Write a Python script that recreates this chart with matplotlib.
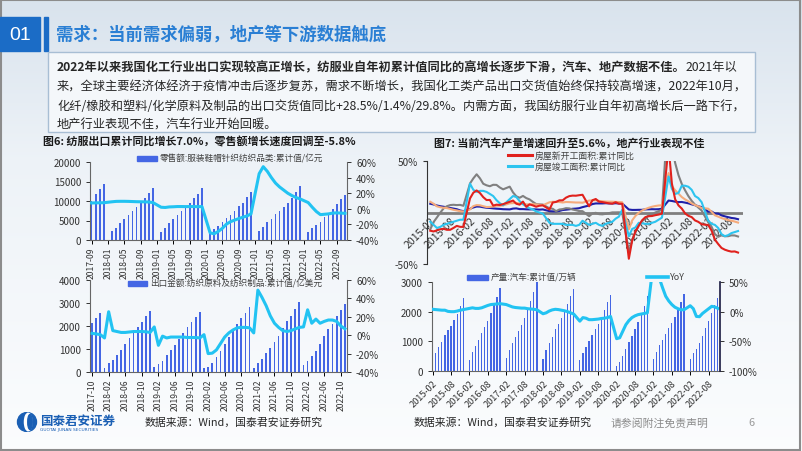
import numpy as np
import pandas as pd
import matplotlib
matplotlib.use("Agg")
import matplotlib.pyplot as plt
from matplotlib.patches import Rectangle, Circle, Ellipse
from matplotlib.lines import Line2D

plt.rcParams['font.family'] = ['Noto Sans CJK SC', 'DejaVu Sans']
plt.rcParams['axes.unicode_minus'] = False

nan = np.nan
# ---------------- data ----------------
months1 = pd.period_range('2017-09', '2022-11', freq='M')
retail_value = [10100, 11800, 13100, 14400,
                nan, 2300, 3200, 4300, 5400, 6500, 7500, 8500, 9500, 10700, 12000, 13400,
                nan, 2150, 3100, 4300, 5400, 6350, 7500, 8500, 9500, 10700, 11850, 13400,
                nan, 1800, 2800, 3600, 4700, 5600, 6500, 7400, 8600, 9600, 11000, 12400,
                nan, 2300, 3400, 4500, 5500, 6600, 7500, 8400, 9400, 10800, 12300, 13800,
                nan, 2100, 3100, 3900, 4700, 5800, 6700, 8000, 9300, 10400, 11600]
retail_yoy = [7.5, 7.6, 7.7, 7.8,
              nan, 9.0, 9.5, 9.6, 9.6, 9.5, 9.3, 9.1, 9.0, 8.9, 8.7, 8.0,
              nan, 2.0, 1.7, 2.4, 2.6, 2.9, 2.9, 2.8, 2.9, 2.9, 2.7, 2.9,
              nan, -30.9, -32.0, -29.0, -25.0, -19.6, -16.5, -14.5, -12.6, -10.8, -9.2, -6.6,
              nan, 45.0, 54.0, 48.0, 40.0, 33.0, 28.0, 24.0, 20.0, 17.0, 14.5, 12.7,
              nan, 8.0, 2.0, -3.5, -7.5, -7.0, -6.5, -5.5, -5.2, -5.5, -5.8]

months2 = pd.period_range('2017-10', '2022-11', freq='M')
export_value = [2115, 2330, 2547,
                170, 390, 530, 750, 960, 1220, 1480, 1730, 1970, 2190, 2450, 2660,
                215, 360, 500, 720, 935, 1180, 1440, 1680, 1940, 2160, 2375, 2590,
                190, 215, 400, 650, 900, 1220, 1510, 1800, 2090, 2330, 2560, 2830,
                190, 390, 575, 820, 1040, 1320, 1580, 1900, 2200, 2450, 2730, 3050,
                290, 480, 700, 930, 1200, 1550, 1870, 2100, 2450, 2700, 2940]
export_yoy = [2.0, 1.4, 0.6,
              -3.0, 25.5, 5.0, 4.0, 3.0, 3.0, 3.5, 4.0, 4.0, 4.0, 3.7, 3.0,
              9.0, -11.0, -1.0, -3.0, -2.0, -2.0, -2.0, -2.0, -2.5, -2.5, -2.5, -3.0,
              0.6, -20.0, -19.5, -16.0, -9.0, -2.0, 2.5, 5.7, 8.0, 8.5, 8.5, 8.0,
              2.5, 49.0, 41.0, 32.0, 21.0, 13.0, 8.5, 5.0, 4.0, 5.0, 6.8, 8.5,
              9.0, 27.6, 13.0, 17.5, 13.0, 15.0, 16.5, 16.5, 15.0, 10.0, 7.0]

months3 = pd.period_range('2015-02', '2022-11', freq='M')
new_start_yoy = [-17.7, -18.4, -17.3, -16.3, -15.8, -16.8, -16.8, -15.0, -13.0, -13.9, -14.0,
                 nan, 13.7, 19.2, 21.4, 18.9, 14.9, 12.1, 12.2, 6.7, 7.6, 7.3, 8.1,
                 nan, 10.4, 11.6, 8.5, 7.6, 10.6, 5.5, 7.9, 6.9, 5.6, 6.6, 7.0,
                 nan, 2.9, 9.7, 10.3, 11.8, 11.8, 14.4, 15.9, 16.4, 16.3, 16.8, 17.2,
                 nan, 6.0, 11.9, 13.1, 10.5, 10.1, 9.5, 8.9, 8.6, 10.0, 8.6, 8.5,
                 nan, -44.9, -27.2, -18.4, -12.8, -7.6, -4.5, -3.6, -3.4, -2.6, -2.0, -1.2,
                 nan, 64.3, 28.2, 12.8, 6.9, 3.8, -0.9, -3.2, -4.5, -7.7, -9.1, -11.4,
                 nan, -12.2, -17.5, -26.3, -30.6, -34.4, -36.1, -37.2, -38.0, -37.8, -38.9]
completed_yoy = [-9.0, -12.0, -15.0, -14.0, -12.0, -11.0, -10.0, -9.0, -8.0, -7.0, -7.0,
                 nan, 28.0, 22.0, 20.0, 21.0, 21.0, 20.0, 18.0, 16.0, 12.0, 9.0, 7.0,
                 nan, 13.0, 16.0, 15.0, 11.0, 8.0, 6.0, 4.0, 3.0, 1.0, 0.0, -1.0,
                 nan, -10.0, -11.0, -11.0, -11.0, -11.0, -12.0, -12.0, -12.0, -13.0, -12.0, -8.0,
                 nan, -12.0, -11.0, -10.0, -12.0, -13.0, -11.0, -10.0, -9.0, -6.0, -4.0, 2.6,
                 nan, -23.0, -16.0, -14.5, -10.0, -10.5, -11.0, -11.0, -10.0, -9.0, -7.0, -5.0,
                 nan, 35.0, 23.0, 18.0, 19.0, 26.0, 26.0, 25.0, 22.0, 16.0, 14.0, 10.0,
                 nan, -8.0, -11.0, -12.0, -15.0, -21.0, -23.0, -22.0, -20.0, -19.0, -18.0]
sales_area_yoy = [-16.3, -9.2, -4.8, -0.2, 3.9, 6.1, 7.2, 7.5, 7.2, 7.4, 6.5,
                  nan, 28.2, 33.1, 37.1, 33.2, 27.9, 26.4, 25.5, 26.9, 26.8, 24.3, 22.5,
                  nan, 25.1, 19.5, 15.7, 14.3, 16.1, 14.0, 12.7, 10.3, 8.2, 7.9, 7.7,
                  nan, 4.1, 3.6, 1.3, 2.9, 3.3, 4.2, 4.0, 2.9, 2.2, 1.4, 1.3,
                  nan, -3.6, -0.9, -0.3, -1.6, -1.8, -1.3, -0.6, 0.1, 0.1, 0.2, -0.1,
                  nan, -39.2, -26.3, -19.3, -12.3, -8.4, -5.8, -2.6, -1.8, 0.0, 1.3, 2.6,
                  nan, 104.9, 63.8, 48.1, 36.3, 27.7, 21.5, 15.9, 11.3, 7.6, 4.8, 1.9,
                  nan, -9.6, -13.8, -20.9, -23.6, -22.2, -23.1, -23.0, -22.2, -22.3, -23.3]
invest_yoy = [10.4, 8.5, 6.0, 5.1, 4.6, 4.3, 3.5, 2.6, 2.0, 1.3, 1.0,
              nan, 3.0, 6.2, 7.2, 7.0, 6.1, 5.3, 5.4, 5.8, 6.6, 6.5, 6.9,
              nan, 8.9, 9.1, 9.3, 8.8, 8.5, 7.9, 7.9, 8.1, 7.8, 7.5, 7.0,
              nan, 9.9, 10.4, 10.3, 10.2, 9.7, 10.2, 10.1, 9.9, 9.7, 9.7, 9.5,
              nan, 11.6, 11.8, 11.9, 11.2, 10.9, 10.6, 10.5, 10.5, 10.3, 10.2, 9.9,
              nan, -16.3, -7.7, -3.3, -0.3, 1.9, 3.4, 4.6, 5.6, 6.3, 6.8, 7.0,
              nan, 38.3, 25.6, 21.6, 18.3, 15.0, 12.7, 10.9, 8.8, 7.2, 6.0, 4.4,
              nan, 3.7, 0.7, -2.7, -4.0, -5.4, -6.4, -7.4, -8.0, -8.8, -9.8]
construction_yoy = [8.5, 7.8, 6.8, 6.1, 5.6, 5.0, 4.4, 3.8, 3.2, 2.0, 1.3,
                    nan, 3.6, 4.9, 5.8, 5.7, 5.1, 4.6, 4.4, 4.0, 3.7, 3.5, 3.2,
                    nan, 3.0, 3.8, 4.0, 3.3, 3.3, 3.1, 3.0, 3.1, 3.0, 2.8, 3.0,
                    nan, 1.3, 1.1, 1.1, 1.5, 2.4, 2.7, 3.1, 3.6, 3.8, 4.2, 5.2,
                    nan, 6.8, 8.2, 8.8, 8.8, 8.8, 9.0, 8.8, 8.7, 9.0, 8.7, 8.7,
                    nan, 2.9, 2.5, 2.5, 2.6, 2.6, 3.0, 3.1, 3.2, 3.1, 3.2, 3.7,
                    nan, 11.6, 11.2, 10.5, 10.1, 10.2, 9.6, 8.9, 7.9, 7.1, 6.1, 5.2,
                    nan, 0.8, 1.0, -1.0, -1.0, -2.8, -3.7, -4.5, -5.3, -5.7, -6.5]

car_output = [395, 605, 800, 990, 1210, 1370, 1530, 1720, 1930, 2200, 2450,
              nan, 380, 635, 840, 1050, 1290, 1470, 1680, 1960, 2210, 2510, 2810,
              nan, 440, 720, 940, 1150, 1350, 1560, 1790, 2070, 2350, 2660, 2990,
              nan, 420, 700, 930, 1160, 1410, 1600, 1800, 2030, 2270, 2540, 2780,
              nan, 360, 610, 820, 1010, 1220, 1420, 1600, 1810, 2040, 2310, 2570,
              nan, 170, 310, 520, 740, 970, 1190, 1400, 1650, 1910, 2200, 2520,
              nan, 390, 640, 860, 1060, 1260, 1440, 1610, 1820, 2060, 2320, 2610,
              nan, 400, 620, 740, 940, 1190, 1440, 1670, 1970, 2230, 2460]
car_yoy = [4.0, 3.5, 3.0, 2.5, 2.5, 0.5, 0.0, 0.0, 1.0, 2.5, 3.5,
           nan, 5.5, 6.5, 5.5, 5.5, 6.5, 8.5, 10.5, 12.0, 12.5, 13.0, 13.5,
           nan, 12.0, 10.0, 8.0, 7.0, 6.5, 6.0, 6.0, 5.0, 4.5, 4.0, 3.2,
           nan, -3.5, -2.0, 1.0, 3.0, 4.0, 3.5, 2.5, 1.5, 0.0, -2.0, -4.0,
           nan, -16.0, -10.0, -11.0, -13.5, -13.5, -13.0, -12.5, -11.5, -11.0, -10.0, -8.0,
           nan, -45.5, -44.0, -33.0, -22.0, -15.0, -10.0, -7.0, -5.0, -4.0, -3.0, -2.0,
           nan, 83.0, 80.0, 55.0, 40.0, 26.0, 18.0, 12.0, 7.5, 5.0, 3.0, 3.4,
           nan, 10.0, 5.0, -8.0, -8.5, -3.0, 1.0, 5.0, 9.0, 8.0, 5.6]

# ---------------- figure ----------------
W, H = 802, 452
fig = plt.figure(figsize=(W / 100, H / 100), dpi=100)

def fx(x):
    return x / W

def fy(y):
    return 1 - y / H

def ax_px(l, t, r, b):
    a = fig.add_axes([l / W, 1 - b / H, (r - l) / W, (b - t) / H])
    a.patch.set_alpha(0)
    return a

# background gradient
bg = fig.add_axes([0, 0, 1, 1], zorder=-10)
top = np.array([0.85, 0.89, 0.93])
mid = np.array([0.93, 0.95, 0.97])
bot = np.array([0.985, 0.99, 0.995])
t = np.linspace(0, 1, 200)[:, None]
grad = np.where(t < 0.35, top + (mid - top) * (t / 0.35), mid + (bot - mid) * ((t - 0.35) / 0.65))
bg.imshow(grad[:, None, :].repeat(2, axis=1), extent=[0, 1, 0, 1], aspect='auto')
bg.set_xlim(0, 1); bg.set_ylim(0, 1)
bg.axis('off')
bg.add_patch(Rectangle((0.001, 0.002), 0.997, 0.995, fill=False, ec='#8c8c8c', lw=1.5))

# header
fig.patches.append(Rectangle((fx(0), fy(52)), fx(40), 34 / H, transform=fig.transFigure,
                             color='#1b6cc6', zorder=1))
fig.patches.append(Rectangle((fx(44), fy(52)), fx(4), 34 / H, transform=fig.transFigure,
                             color='#1b6cc6', zorder=1))
fig.text(fx(20), fy(35), '01', color='white', fontsize=14, ha='center', va='center',
         family=['Liberation Sans', 'DejaVu Sans'])
fig.text(fx(56), fy(35), '需求：当前需求偏弱，地产等下游数据触底', color='#2a7fd4',
         fontsize=12.5, weight='bold', ha='left', va='center')

# paragraph box
fig.patches.append(Rectangle((fx(48), fy(133)), (755 - 48) / W, 80 / H, transform=fig.transFigure,
                             fc='#f4f7fa', ec='#a8bed4', lw=1.0, zorder=1))
para_y = [68, 87, 106, 125]
t1 = fig.text(fx(57), fy(para_y[0]), '2022年以来我国化工行业出口实现较高正增长，纺服业自年初累计值同比的高增长逐步下滑，汽车、地产数据不佳。',
              fontsize=8.8, weight='bold', color='#262626', ha='left', va='center')
fig.canvas.draw()
bb = t1.get_window_extent()
fig.text(bb.x1 / W, fy(para_y[0]), '2021年以', fontsize=8.8, color='#262626', ha='left', va='center')
para_lines = ['来，全球主要经济体经济于疫情冲击后逐步复苏，需求不断增长，我国化工类产品出口交货值始终保持较高增速，2022年10月，',
              '化纤/橡胶和塑料/化学原料及制品的出口交货值同比+28.5%/1.4%/29.8%。内需方面，我国纺服行业自年初高增长后一路下行，',
              '地产行业表现不佳，汽车行业开始回暖。']
for yy, s in zip(para_y[1:], para_lines):
    fig.text(fx(57), fy(yy), s, fontsize=8.8, color='#262626', ha='left', va='center')

BAR = '#4466e4'
CYAN = '#22c3f2'
TXT = '#333333'
SP = '#666666'

def style_spines(a, sides_on):
    for s in ['top', 'bottom', 'left', 'right']:
        a.spines[s].set_visible(s in sides_on)
        a.spines[s].set_color(SP)
        a.spines[s].set_linewidth(0.8)

def legend_patch(x0, x1, y, text, tx):
    fig.patches.append(Rectangle((fx(x0), fy(y + 2.5)), (x1 - x0) / W, 5 / H,
                                 transform=fig.transFigure, color=BAR, zorder=5))
    fig.text(fx(tx), fy(y), text, fontsize=6.2, color='#404040', ha='left', va='center')

def legend_line(x0, x1, y, color, text, tx, lw=2.2):
    fig.lines.append(Line2D([fx(x0), fx(x1)], [fy(y), fy(y)], transform=fig.transFigure,
                            color=color, lw=lw, zorder=5))
    fig.text(fx(tx), fy(y), text, fontsize=6.4, color='#404040', ha='left', va='center')

# ---------------- chart 1 ----------------
fig.text(fx(199), fy(142), '图6: 纺服出口累计同比增长7.0%，零售额增长速度回调至-5.8%',
         fontsize=7.9, weight='bold', color='#1a1a1a', ha='center', va='center')
x1 = np.arange(len(months1))
rv = np.array(retail_value, float)
ry = np.array(retail_yoy, float)
ax1 = ax_px(90, 163, 347, 241)
m = ~np.isnan(rv)
ax1.bar(x1[m], rv[m], width=0.42, color=BAR, zorder=2)
ax1.set_xlim(-0.4, 62.5)
ax1.set_ylim(0, 20000)
ax1.set_yticks(range(0, 20001, 5000))
tk1 = list(range(0, 61, 4))
ax1.set_xticks(tk1)
ax1.set_xticklabels([months1[i].strftime('%Y-%m') for i in tk1], rotation=90, fontsize=6.2, color=TXT)
ax1.tick_params(axis='y', labelsize=7, colors=TXT, length=3, width=0.7)
ax1.tick_params(axis='x', length=3, width=0.7, pad=1.5)
style_spines(ax1, ['left', 'bottom'])
ax1b = ax1.twinx()
ax1b.patch.set_alpha(0)
m = ~np.isnan(ry)
ax1b.plot(x1[m], ry[m], color=CYAN, lw=2.2, solid_joinstyle='round')
ax1b.set_ylim(-40, 60)
ax1b.set_yticks(range(-40, 61, 20))
ax1b.set_yticklabels([f'{v}%' for v in range(-40, 61, 20)])
ax1b.tick_params(axis='y', labelsize=7, colors=TXT, length=3, width=0.7)
style_spines(ax1b, ['right'])
legend_patch(137, 157, 159, '零售额:服装鞋帽针织纺织品类:累计值/亿元', 160)

# ---------------- chart 2 ----------------
x2 = np.arange(len(months2))
ev = np.array(export_value, float)
ey = np.array(export_yoy, float)
ax2 = ax_px(90, 281, 347, 373)
ax2.bar(x2, ev, width=0.42, color=BAR, zorder=2)
ax2.set_xlim(-0.5, 61.5)
ax2.set_ylim(0, 4000)
ax2.set_yticks(range(0, 4001, 1000))
tk2 = list(range(0, 61, 4))
ax2.set_xticks(tk2)
ax2.set_xticklabels([months2[i].strftime('%Y-%m') for i in tk2], rotation=90, fontsize=6.2, color=TXT)
ax2.tick_params(axis='y', labelsize=7, colors=TXT, length=3, width=0.7)
ax2.tick_params(axis='x', length=3, width=0.7, pad=1.5)
style_spines(ax2, ['left', 'bottom'])
ax2b = ax2.twinx()
ax2b.patch.set_alpha(0)
ax2b.plot(x2, ey, color=CYAN, lw=2.2, solid_joinstyle='round')
ax2b.set_ylim(-40, 60)
ax2b.set_yticks(range(-40, 61, 20))
ax2b.set_yticklabels([f'{v}%' for v in range(-40, 61, 20)])
ax2b.tick_params(axis='y', labelsize=7, colors=TXT, length=3, width=0.7)
style_spines(ax2b, ['right'])
legend_patch(128, 147, 284, '出口金额:纺织原料及纺织制品:累计值/亿美元', 150)

# ---------------- chart 3 ----------------
fig.text(fx(569), fy(143), '图7: 当前汽车产量增速回升至5.6%，地产行业表现不佳',
         fontsize=7.9, weight='bold', color='#1a1a1a', ha='center', va='center')
x3 = np.arange(len(months3))
ax3 = ax_px(427, 162, 743, 265)
ax3.axhline(0, color='#7f7f7f', lw=2.0, zorder=1)
series3 = [(construction_yoy, '#1f1fa8'), (sales_area_yoy, '#808080'), (invest_yoy, '#f5ab7c'),
           (completed_yoy, '#2cc4ef'), (new_start_yoy, '#e0211d')]
for vals, col in series3:
    v = np.array(vals, float)
    m = ~np.isnan(v)
    ax3.plot(x3[m], v[m], color=col, lw=1.5, zorder=3)
ax3.set_xlim(-1, 94.5)
ax3.set_ylim(-50, 50)
ax3.set_yticks([-50, 50])
ax3.set_yticklabels(['-50%', '50%'])
ax3.spines['bottom'].set_position(('data', 0))
style_spines(ax3, ['left', 'bottom'])
ax3.spines['bottom'].set_visible(False)
ax3.spines['left'].set_color('#333333')
tk3 = list(range(0, 91, 6))
ax3.set_xticks(tk3)
ax3.set_xticklabels([months3[i].strftime('%Y-%m') for i in tk3], rotation=45, ha='right',
                    rotation_mode='anchor', fontsize=7.6, color=TXT)
ax3.tick_params(axis='x', length=0, pad=2)
ax3.tick_params(axis='y', labelsize=7.2, colors=TXT, length=3, width=0.8)
legend_line(508, 532, 156, '#e0211d', '房屋新开工面积:累计同比', 535, lw=2.2)
legend_line(508, 532, 167, '#2cc4ef', '房屋竣工面积:累计同比', 535, lw=2.2)

# ---------------- chart 4 ----------------
cv = np.array(car_output, float)
cy = np.array(car_yoy, float)
ax4 = ax_px(432, 283, 720, 372)
m = ~np.isnan(cv)
ax4.bar(x3[m], cv[m], width=0.42, color=BAR, zorder=2)
ax4.set_xlim(-0.2, 93.7)
ax4.set_ylim(0, 3000)
ax4.set_yticks(range(0, 3001, 1000))
ax4.set_xticks(tk3)
ax4.set_xticklabels([months3[i].strftime('%Y-%m') for i in tk3], rotation=45, ha='right',
                    rotation_mode='anchor', fontsize=6.6, color=TXT)
ax4.tick_params(axis='x', length=3, width=0.7, pad=2)
ax4.tick_params(axis='y', labelsize=7, colors=TXT, length=3, width=0.7)
style_spines(ax4, ['left', 'bottom'])
ax4b = ax4.twinx()
ax4b.patch.set_alpha(0)
m = ~np.isnan(cy)
ax4b.plot(x3[m], cy[m], color=CYAN, lw=2.2, solid_joinstyle='round')
ax4b.set_ylim(-100, 50)
ax4b.set_yticks([-100, -50, 0, 50])
ax4b.set_yticklabels(['-100%', '-50%', '0%', '50%'])
ax4b.tick_params(axis='y', labelsize=7, colors=TXT, length=3, width=0.7)
style_spines(ax4b, ['right'])
ax4b.spines['right'].set_color('#1a1a40')
ax4b.spines['right'].set_linewidth(1.2)
legend_patch(467, 488, 278, '产量:汽车:累计值/万辆', 491)
legend_line(647, 668, 278, CYAN, 'YoY', 670, lw=2.6)

# ---------------- footer ----------------
lax = fig.add_axes([fx(16), fy(433), 22 / W, 20 / H])
lax.set_xlim(-1.1, 1.1); lax.set_ylim(-1.0, 1.0); lax.set_aspect('equal'); lax.axis('off')
lax.add_patch(Circle((0, 0), 0.95, color='#1a5fb4'))
lax.add_patch(Ellipse((0.12, 0), 0.75, 1.75, color='white'))
lax.add_patch(Ellipse((0.3, 0), 0.45, 1.5, color='#1a5fb4'))
fig.text(fx(40), fy(421), '国泰君安证券', fontsize=9, weight='bold', color='#1a5fb4', ha='left', va='center')
fig.text(fx(40), fy(430), 'GUOTAI JUNAN SECURITIES', fontsize=3.2, color='#1a5fb4', ha='left', va='center',
         family=['DejaVu Sans'])
fig.text(fx(145), fy(423), '数据来源：Wind，国泰君安证券研究', fontsize=7.8, color='#262626', ha='left', va='center')
fig.text(fx(414), fy(423), '数据来源：Wind，国泰君安证券研究', fontsize=7.8, color='#262626', ha='left', va='center')
fig.text(fx(611), fy(423), '请参阅附注免责声明', fontsize=7.8, color='#8a8a8a', ha='left', va='center')
fig.text(fx(748), fy(423), '6', fontsize=7.8, color='#9a9a9a', ha='left', va='center')

fig.savefig('out.png', dpi=100)
